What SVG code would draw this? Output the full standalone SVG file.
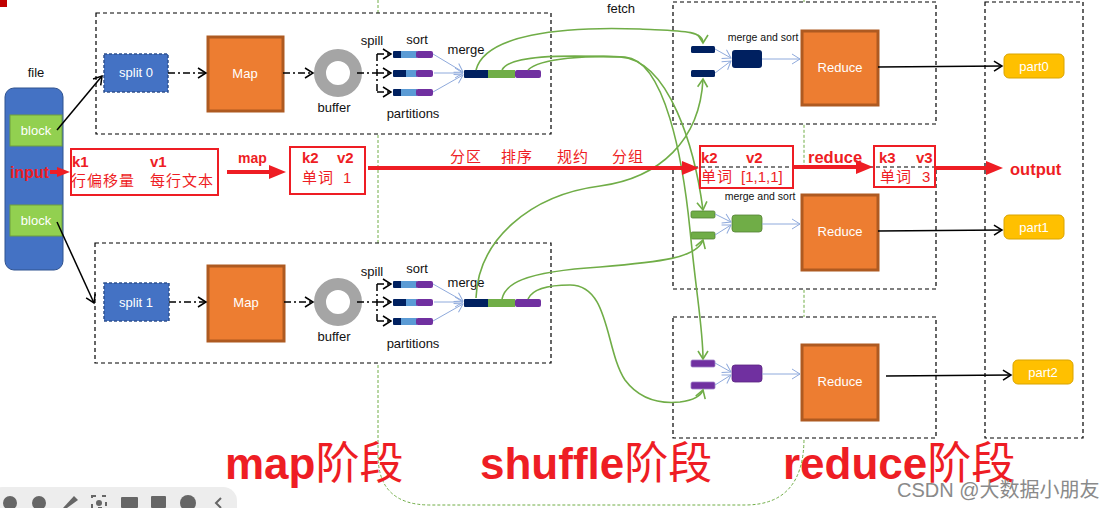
<svg xmlns="http://www.w3.org/2000/svg" width="1104" height="508" viewBox="0 0 1104 508">
<style>
text{font-family:"Liberation Sans","Noto Sans CJK SC",sans-serif}
.dbox{fill:#fff;stroke:#000;stroke-width:1.2;stroke-dasharray:4 3}
.lbl{font-size:13px;fill:#111}
.wt{font-size:13px;fill:#fff}
.orange{fill:#ED7D31;stroke:#AE5A21;stroke-width:3}
.split{fill:#4472C4;stroke:#2F528F;stroke-width:1.5;stroke-dasharray:3 2}
.block{fill:#92D050;stroke:#6E9E3C;stroke-width:1}
.part{fill:#FFC000;stroke:#D9A400;stroke-width:1}
.dd{fill:none;stroke:#000;stroke-width:1.5;stroke-dasharray:7 3 2 3}
.blk{fill:none;stroke:#000;stroke-width:1.5}
.blue{fill:none;stroke:#8FAADC;stroke-width:1}
.grn{fill:none;stroke:#70AD47;stroke-width:1.6}
.red{fill:none;stroke:#EE1D24;stroke-width:4}
.kv{fill:none;stroke:#EE1D24;stroke-width:2}
.rt{fill:#EE1D24;font-size:15px}
.rb{fill:#EE1D24;font-weight:bold}
.navy{fill:#002060}
.lb{fill:#5B9BD5}
.pur{fill:#7030A0}
.gr{fill:#70AD47}
.big{fill:#EE1D24;font-size:44px;font-weight:bold}
.big tspan{font-weight:normal}
</style>
<defs>
<marker id="ab" markerWidth="12" markerHeight="12" refX="10" refY="6" orient="auto" markerUnits="userSpaceOnUse"><path d="M2,1 L10,6 L2,11" fill="none" stroke="#000" stroke-width="1.5"/></marker>
<marker id="abl" markerWidth="12" markerHeight="12" refX="10" refY="6" orient="auto" markerUnits="userSpaceOnUse"><path d="M2,1 L10,6 L2,11" fill="none" stroke="#8FAADC" stroke-width="1"/></marker>
<marker id="ag" markerWidth="12" markerHeight="12" refX="10" refY="6" orient="auto" markerUnits="userSpaceOnUse"><path d="M2,1 L10,6 L2,11" fill="none" stroke="#70AD47" stroke-width="1.6"/></marker>
<marker id="ar" markerWidth="18" markerHeight="16" refX="1" refY="8" orient="auto" markerUnits="userSpaceOnUse"><path d="M0,1 L17,8 L0,15 z" fill="#EE1D24"/></marker>
<marker id="ars" markerWidth="14" markerHeight="12" refX="1" refY="6" orient="auto" markerUnits="userSpaceOnUse"><path d="M0,1 L13,6 L0,11 z" fill="#EE1D24"/></marker>
</defs>
<rect width="1104" height="508" fill="#fff"/>
<rect x="0" y="0" width="7" height="7" fill="#C00000"/>
<!-- shuffle region outline -->
<path d="M378,-5 V455 Q378,505 430,505 H745 Q804,505 804,438 V-5" fill="none" stroke="#70AD47" stroke-width="1" stroke-dasharray="3 2"/>

<g id="map-box-0"><rect class="dbox" x="96" y="13" width="455" height="121"/></g>
<g id="map-box-1"><rect class="dbox" x="95" y="243" width="456" height="120"/></g>
<g id="reduce-box-0"><rect class="dbox" x="673" y="2" width="263" height="122"/></g>
<g id="reduce-box-1"><rect class="dbox" x="673" y="167" width="263" height="122"/></g>
<g id="reduce-box-2"><rect class="dbox" x="673" y="317" width="263" height="121"/></g>
<g id="output-box"><rect class="dbox" x="985" y="2" width="98" height="436"/></g>

<g id="file">
<text class="lbl" x="36" y="77" text-anchor="middle">file</text>
<rect x="5" y="88" width="58" height="182" rx="9" fill="#4472C4" stroke="#2F528F" stroke-width="1"/>
</g>
<g id="block-0"><rect class="block" x="10" y="115" width="52" height="31"/><text class="wt" x="36" y="135" text-anchor="middle">block</text></g>
<g id="block-1"><rect class="block" x="10" y="205" width="52" height="31"/><text class="wt" x="36" y="225" text-anchor="middle">block</text></g>

<g id="split-0"><rect class="split" x="104" y="54" width="64" height="38"/><text class="wt" x="136" y="77" text-anchor="middle">split 0</text></g>
<g id="map-0"><rect class="orange" x="208" y="37" width="75" height="74"/><text class="wt" x="245" y="78" text-anchor="middle">Map</text></g>
<g id="buffer-0"><circle cx="338" cy="73" r="18" fill="none" stroke="#A5A5A5" stroke-width="12"/><text class="lbl" x="334" y="112" text-anchor="middle">buffer</text></g>
<g id="spill-0">
<text class="lbl" x="372" y="45" text-anchor="middle">spill</text>
<text class="lbl" x="417" y="44" text-anchor="middle">sort</text>
<rect class="navy" x="393" y="51" width="9" height="7" rx="1"/><rect class="lb" x="401" y="51" width="16" height="7"/><rect class="pur" x="416" y="51" width="17" height="7" rx="2"/>
<rect class="navy" x="393" y="70" width="14" height="7" rx="1"/><rect class="lb" x="406" y="70" width="11" height="7"/><rect class="pur" x="416" y="70" width="17" height="7" rx="2"/>
<rect class="navy" x="393" y="89" width="9" height="7" rx="1"/><rect class="lb" x="401" y="89" width="16" height="7"/><rect class="pur" x="416" y="89" width="17" height="7" rx="2"/>
<text class="lbl" x="413" y="118" text-anchor="middle">partitions</text>
</g>
<g id="merge-0">
<text class="lbl" x="466" y="54" text-anchor="middle">merge</text>
<rect class="navy" x="464" y="70" width="25" height="8" rx="1"/><rect class="gr" x="488" y="70" width="27" height="8"/><rect class="pur" x="515" y="70" width="26" height="8" rx="2"/>
</g>

<g id="split-1"><rect class="split" x="104" y="283" width="65" height="38"/><text class="wt" x="136" y="307" text-anchor="middle">split 1</text></g>
<g id="map-1"><rect class="orange" x="208" y="266" width="76" height="75"/><text class="wt" x="246" y="307" text-anchor="middle">Map</text></g>
<g id="buffer-1"><circle cx="338" cy="302" r="18" fill="none" stroke="#A5A5A5" stroke-width="12"/><text class="lbl" x="334" y="341" text-anchor="middle">buffer</text></g>
<g id="spill-1">
<text class="lbl" x="372" y="276" text-anchor="middle">spill</text>
<text class="lbl" x="417" y="273" text-anchor="middle">sort</text>
<rect class="navy" x="393" y="281" width="9" height="7" rx="1"/><rect class="lb" x="401" y="281" width="16" height="7"/><rect class="pur" x="416" y="281" width="17" height="7" rx="2"/>
<rect class="navy" x="393" y="299" width="14" height="7" rx="1"/><rect class="lb" x="406" y="299" width="11" height="7"/><rect class="pur" x="416" y="299" width="17" height="7" rx="2"/>
<rect class="navy" x="393" y="318" width="9" height="7" rx="1"/><rect class="lb" x="401" y="318" width="16" height="7"/><rect class="pur" x="416" y="318" width="17" height="7" rx="2"/>
<text class="lbl" x="413" y="348" text-anchor="middle">partitions</text>
</g>
<g id="merge-1">
<text class="lbl" x="466" y="287" text-anchor="middle">merge</text>
<rect class="navy" x="464" y="299" width="25" height="8" rx="1"/><rect class="gr" x="488" y="299" width="27" height="8"/><rect class="pur" x="515" y="299" width="26" height="8" rx="2"/>
</g>

<g id="fetch-label"><text class="lbl" x="621" y="13" text-anchor="middle">fetch</text></g>

<g id="reduce-0">
<text x="763" y="41" text-anchor="middle" font-size="10.5" fill="#111">merge and sort</text>
<rect class="navy" x="691" y="46" width="24" height="7" rx="1.5"/>
<rect class="navy" x="691" y="70" width="24" height="7" rx="1.5"/>
<rect class="navy" x="732" y="50" width="30" height="18" rx="3"/>
<rect class="orange" x="802" y="31" width="76" height="74"/><text class="wt" x="840" y="72" text-anchor="middle">Reduce</text>
</g>
<g id="reduce-1">
<text x="760" y="200" text-anchor="middle" font-size="10.5" fill="#111">merge and sort</text>
<rect class="gr" x="691" y="211" width="24" height="7" rx="1.5" stroke="#548235" stroke-width="0.8"/>
<rect class="gr" x="691" y="232" width="24" height="7" rx="1.5" stroke="#548235" stroke-width="0.8"/>
<rect class="gr" x="732" y="215" width="30" height="17" rx="3" stroke="#548235" stroke-width="0.8"/>
<rect class="orange" x="802" y="195" width="76" height="75"/><text class="wt" x="840" y="236" text-anchor="middle">Reduce</text>
</g>
<g id="reduce-2">
<rect class="pur" x="691" y="360" width="24" height="7" rx="1.5" stroke="#A080C8" stroke-width="0.8"/>
<rect class="pur" x="691" y="382" width="24" height="7" rx="1.5" stroke="#A080C8" stroke-width="0.8"/>
<rect class="pur" x="732" y="365" width="30" height="17" rx="3" stroke="#5B2580" stroke-width="0.8"/>
<rect class="orange" x="802" y="345" width="76" height="75"/><text class="wt" x="840" y="386" text-anchor="middle">Reduce</text>
</g>

<g id="part0"><rect class="part" x="1004" y="54" width="60" height="24" rx="5"/><text class="wt" x="1034" y="71" text-anchor="middle">part0</text></g>
<g id="part1"><rect class="part" x="1004" y="215" width="60" height="24" rx="5"/><text class="wt" x="1034" y="232" text-anchor="middle">part1</text></g>
<g id="part2"><rect class="part" x="1013" y="360" width="60" height="24" rx="5"/><text class="wt" x="1043" y="377" text-anchor="middle">part2</text></g>

<g id="connectors">
<path class="blk" d="M57,130 L102,76" marker-end="url(#ab)"/>
<path class="blk" d="M57,222 L94,303" marker-end="url(#ab)"/>
<path class="dd" d="M168,73 H206" marker-end="url(#ab)"/>
<path class="dd" d="M283,73 H313" marker-end="url(#ab)"/>
<path class="dd" d="M357,73 H377 M377,54 V92"/>
<path class="dd" d="M377,54 H391" marker-end="url(#ab)"/>
<path class="dd" d="M377,73 H391" marker-end="url(#ab)"/>
<path class="dd" d="M377,92 H391" marker-end="url(#ab)"/>
<path class="dd" d="M169,302 H206" marker-end="url(#ab)"/>
<path class="dd" d="M284,302 H313" marker-end="url(#ab)"/>
<path class="dd" d="M357,302 H377 M377,284 V321"/>
<path class="dd" d="M377,284 H391" marker-end="url(#ab)"/>
<path class="dd" d="M377,302 H391" marker-end="url(#ab)"/>
<path class="dd" d="M377,321 H391" marker-end="url(#ab)"/>
<path class="blue" d="M433,54 L463,72" marker-end="url(#abl)"/>
<path class="blue" d="M434,73 L463,73" marker-end="url(#abl)"/>
<path class="blue" d="M433,92 L463,75" marker-end="url(#abl)"/>
<path class="blue" d="M433,284 L463,301" marker-end="url(#abl)"/>
<path class="blue" d="M434,302 L463,302" marker-end="url(#abl)"/>
<path class="blue" d="M433,321 L463,304" marker-end="url(#abl)"/>
<path class="blue" d="M715,49 L731,58" marker-end="url(#abl)"/>
<path class="blue" d="M715,73 L731,61" marker-end="url(#abl)"/>
<path class="blue" d="M762,59 L800,59" marker-end="url(#abl)"/>
<path class="blue" d="M715,214 L731,222" marker-end="url(#abl)"/>
<path class="blue" d="M715,235 L731,225" marker-end="url(#abl)"/>
<path class="blue" d="M762,224 L800,224" marker-end="url(#abl)"/>
<path class="blue" d="M715,363 L731,372" marker-end="url(#abl)"/>
<path class="blue" d="M715,385 L731,375" marker-end="url(#abl)"/>
<path class="blue" d="M762,374 L800,374" marker-end="url(#abl)"/>
<path class="blk" d="M878,67 L1002,66" marker-end="url(#ab)"/>
<path class="blk" d="M878,231 L1002,230" marker-end="url(#ab)"/>
<path class="blk" d="M886,376 L1011,375" marker-end="url(#ab)"/>
<path class="grn" d="M476,70 C485,35 560,26 640,29 C680,31 703,30 703,43" marker-end="url(#ag)"/>
<path class="grn" d="M502,70 C510,55 560,55 620,57 C670,60 695,150 703,210" marker-end="url(#ag)"/>
<path class="grn" d="M528,70 C540,58 590,55 625,57 C665,60 683,160 690,230 C697,300 703,330 703,359" marker-end="url(#ag)"/>
<path class="grn" d="M476,298 C478,240 530,195 600,186 C660,178 700,140 703,79" marker-end="url(#ag)"/>
<path class="grn" d="M502,299 C505,285 520,272 600,267 C660,262 697,258 703,240" marker-end="url(#ag)"/>
<path class="grn" d="M528,299 C532,290 545,285 570,285 C610,285 605,350 625,380 C640,400 660,404 680,402 C695,400 701,396 703,390" marker-end="url(#ag)"/>
</g>

<g id="kv-flow">
<text class="rb" x="10" y="178" font-size="16">input</text>
<path class="red" d="M50,172 H58" marker-end="url(#ars)"/>
<rect class="kv" x="71" y="149" width="147" height="46"/>
<text class="rt" x="72" y="167" font-weight="bold">k1</text>
<text class="rt" x="150" y="167" font-weight="bold">v1</text>
<text class="rt" x="71" y="186" letter-spacing="1">行偏移量</text>
<text class="rt" x="150" y="186" letter-spacing="1">每行文本</text>
<text class="rb" x="238" y="163" font-size="14">map</text>
<path class="red" d="M227,172 H270" marker-end="url(#ar)"/>
<rect class="kv" x="290" y="147" width="75" height="47"/>
<text class="rt" x="302" y="163" font-weight="bold">k2</text>
<text class="rt" x="337" y="163" font-weight="bold">v2</text>
<text class="rt" x="302" y="183" letter-spacing="1">单词</text>
<text class="rt" x="343" y="183">1</text>
<path class="red" d="M368,168 H683" marker-end="url(#ar)"/>
<text class="rt" x="450" y="162" font-size="15" letter-spacing="1">分区</text>
<text class="rt" x="501" y="162" font-size="15" letter-spacing="1">排序</text>
<text class="rt" x="557" y="162" font-size="15" letter-spacing="1">规约</text>
<text class="rt" x="612" y="162" font-size="15" letter-spacing="1">分组</text>
<rect class="kv" x="700" y="146" width="93" height="42"/>
<text class="rt" x="701" y="163" font-weight="bold">k2</text>
<text class="rt" x="746" y="163" font-weight="bold">v2</text>
<text class="rt" x="701" y="182" letter-spacing="1">单词</text>
<text class="rt" x="741" y="182">[1,1,1]</text>
<text class="rb" x="808" y="163" font-size="16.5">reduce</text>
<path class="red" d="M793,167 H857" marker-end="url(#ar)"/>
<rect class="kv" x="874" y="146" width="61" height="41"/>
<text class="rt" x="879" y="163" font-weight="bold">k3</text>
<text class="rt" x="916" y="163" font-weight="bold">v3</text>
<text class="rt" x="880" y="182" letter-spacing="1">单词</text>
<text class="rt" x="922" y="182">3</text>
<path class="red" d="M935,168 H987" marker-end="url(#ar)"/>
<text class="rb" x="1010" y="175" font-size="16.5">output</text>
</g>

<g id="stage-labels">
<text class="big" x="225" y="479">map<tspan>阶段</tspan></text>
<text class="big" x="480" y="479">shuffle<tspan>阶段</tspan></text>
<text class="big" x="783" y="479">reduce<tspan>阶段</tspan></text>
</g>

<g id="toolbar">
<rect x="-12" y="487" width="249" height="40" rx="14" fill="#EDEDED"/>
<circle cx="10" cy="503" r="7" fill="#666"/>
<circle cx="39" cy="503" r="7" fill="#666"/>
<path d="M63,508 L74,496 L78,500 L67,508 z" fill="#666"/>
<rect x="92" y="496" width="14" height="12" fill="none" stroke="#666" stroke-width="2" stroke-dasharray="4 6"/>
<circle cx="99" cy="503" r="3" fill="#666"/>
<rect x="121" y="497" width="17" height="11" rx="1" fill="#666"/>
<rect x="151" y="496" width="15" height="12" rx="1" fill="#666"/>
<circle cx="188" cy="503" r="8" fill="#666"/>
<path d="M221,498 L216,503 L221,508" fill="none" stroke="#666" stroke-width="2"/>
</g>

<g id="watermark"><text x="897" y="497" font-size="20" fill="#8a8a8a">CSDN @大数据小朋友</text></g>
</svg>
